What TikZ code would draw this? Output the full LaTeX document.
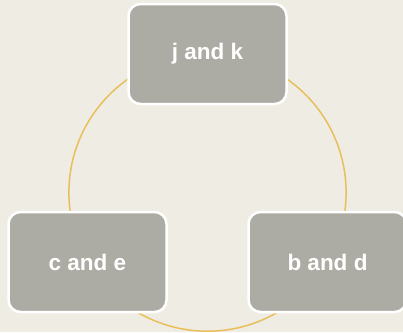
\documentclass[tikz,border=0pt]{standalone}
\usepackage{fontspec}
\setmainfont{Liberation Sans}
\definecolor{bgcol}{HTML}{EFECE4}
\definecolor{ringcol}{HTML}{E8BF5A}
\definecolor{boxcol}{HTML}{ADACA4}
\tikzset{
  cyclebox/.style={draw=white, line width=2.5pt, fill=boxcol, rounded corners=12pt,
    minimum width=158pt, minimum height=100pt, inner sep=0pt,
    text=white, font=\fontsize{22.5}{26}\selectfont\bfseries},
}
\begin{document}
\begin{tikzpicture}[x=1pt,y=-1pt]
  \path[fill=bgcol] (0,0) rectangle (403,332);
  \useasboundingbox (0,0) rectangle (403,332);
  \coordinate (ctr) at (207.5,192.6);
  \draw[ringcol, line width=1.5pt] (ctr) circle[radius=138.6];
  \node[cyclebox] (jk) at (207.5,54) {j and k};
  \node[cyclebox] (bd) at (327.5,262) {b and d};
  \node[cyclebox] (ce) at (87.5,262) {c and e};
\end{tikzpicture}
\end{document}
